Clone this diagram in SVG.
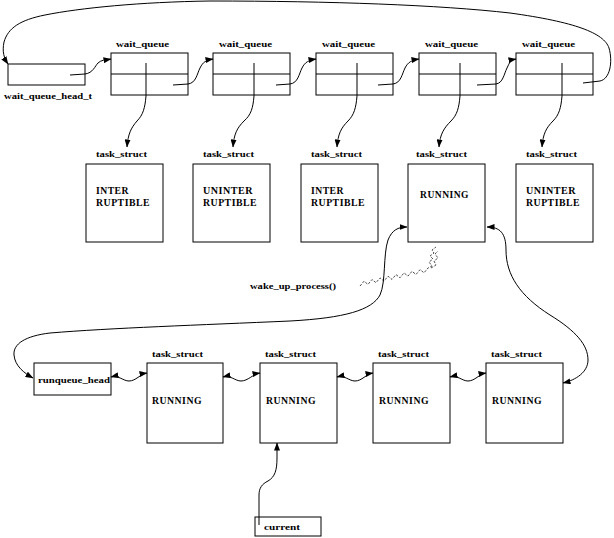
<svg xmlns="http://www.w3.org/2000/svg" width="614" height="538" viewBox="0 0 614 538">
<style>
.box{fill:#fff;stroke:#000;stroke-width:1}
.ln{fill:none;stroke:#000;stroke-width:1}
.lbl{font-family:"Liberation Serif",serif;font-weight:bold;font-size:9px;fill:#000}
.big{font-family:"Liberation Serif",serif;font-weight:bold;font-size:10px;fill:#000;letter-spacing:0.5px}
.zz{fill:none;stroke:#000;stroke-width:0.7;stroke-dasharray:2.5,1.5}
</style>
<defs>
<marker id="ah" viewBox="0 0 8 6" refX="7.5" refY="3" markerWidth="8" markerHeight="6" markerUnits="userSpaceOnUse" orient="auto-start-reverse">
<path d="M0,0 L8,3 L0,6 z" fill="#000"/>
</marker>
</defs>
<rect width="614" height="538" fill="#fff"/>

<g id="wait_queue_head">
<rect class="box" x="8" y="64" width="77" height="21"/>
<text class="lbl" x="4" y="99" textLength="88" lengthAdjust="spacingAndGlyphs">wait_queue_head_t</text>
</g>

<g id="wq1">
<text class="lbl" x="116" y="47" textLength="53" lengthAdjust="spacingAndGlyphs">wait_queue</text>
<rect class="box" x="111" y="53" width="77" height="42"/>
<line class="ln" x1="111" y1="74" x2="188" y2="74"/>
</g>
<g id="wq2">
<text class="lbl" x="219" y="47" textLength="53" lengthAdjust="spacingAndGlyphs">wait_queue</text>
<rect class="box" x="213" y="53" width="77" height="42"/>
<line class="ln" x1="213" y1="74" x2="290" y2="74"/>
</g>
<g id="wq3">
<text class="lbl" x="322" y="47" textLength="53" lengthAdjust="spacingAndGlyphs">wait_queue</text>
<rect class="box" x="316" y="53" width="77" height="42"/>
<line class="ln" x1="316" y1="74" x2="393" y2="74"/>
</g>
<g id="wq4">
<text class="lbl" x="425" y="47" textLength="53" lengthAdjust="spacingAndGlyphs">wait_queue</text>
<rect class="box" x="419" y="53" width="77" height="42"/>
<line class="ln" x1="419" y1="74" x2="496" y2="74"/>
</g>
<g id="wq5">
<text class="lbl" x="522" y="47" textLength="53" lengthAdjust="spacingAndGlyphs">wait_queue</text>
<rect class="box" x="516" y="53" width="77" height="42"/>
<line class="ln" x1="516" y1="74" x2="593" y2="74"/>
</g>

<g id="ts1">
<text class="lbl" x="96" y="157" textLength="51" lengthAdjust="spacingAndGlyphs">task_struct</text>
<rect class="box" x="86" y="164" width="77" height="78"/>
<text class="big" x="96" y="194" textLength="33" lengthAdjust="spacingAndGlyphs">INTER</text>
<text class="big" x="96" y="206" textLength="54" lengthAdjust="spacingAndGlyphs">RUPTIBLE</text>
</g>
<g id="ts2">
<text class="lbl" x="203" y="157" textLength="51" lengthAdjust="spacingAndGlyphs">task_struct</text>
<rect class="box" x="193" y="164" width="77" height="78"/>
<text class="big" x="203" y="194" textLength="50" lengthAdjust="spacingAndGlyphs">UNINTER</text>
<text class="big" x="203" y="206" textLength="54" lengthAdjust="spacingAndGlyphs">RUPTIBLE</text>
</g>
<g id="ts3">
<text class="lbl" x="311" y="157" textLength="51" lengthAdjust="spacingAndGlyphs">task_struct</text>
<rect class="box" x="301" y="164" width="77" height="78"/>
<text class="big" x="311" y="194" textLength="33" lengthAdjust="spacingAndGlyphs">INTER</text>
<text class="big" x="311" y="206" textLength="54" lengthAdjust="spacingAndGlyphs">RUPTIBLE</text>
</g>
<g id="ts4">
<text class="lbl" x="416" y="157" textLength="51" lengthAdjust="spacingAndGlyphs">task_struct</text>
<rect class="box" x="408" y="164" width="77" height="78"/>
<text class="big" x="420" y="198" textLength="49" lengthAdjust="spacingAndGlyphs">RUNNING</text>
</g>
<g id="ts5">
<text class="lbl" x="526" y="157" textLength="51" lengthAdjust="spacingAndGlyphs">task_struct</text>
<rect class="box" x="516" y="164" width="77" height="78"/>
<text class="big" x="526" y="194" textLength="50" lengthAdjust="spacingAndGlyphs">UNINTER</text>
<text class="big" x="526" y="206" textLength="54" lengthAdjust="spacingAndGlyphs">RUPTIBLE</text>
</g>

<g id="wake_label">
<text class="lbl" x="250" y="289" textLength="86" lengthAdjust="spacingAndGlyphs">wake_up_process()</text>
</g>

<g id="runqueue_head">
<rect class="box" x="34" y="363" width="77" height="32"/>
<text class="lbl" x="38" y="383" textLength="72" lengthAdjust="spacingAndGlyphs">runqueue_head</text>
</g>
<g id="rq1">
<text class="lbl" x="152" y="357" textLength="51" lengthAdjust="spacingAndGlyphs">task_struct</text>
<rect class="box" x="147" y="363" width="76" height="80"/>
<text class="big" x="152" y="404" textLength="50" lengthAdjust="spacingAndGlyphs">RUNNING</text>
</g>
<g id="rq2">
<text class="lbl" x="265" y="357" textLength="51" lengthAdjust="spacingAndGlyphs">task_struct</text>
<rect class="box" x="260" y="363" width="77" height="80"/>
<text class="big" x="266" y="404" textLength="50" lengthAdjust="spacingAndGlyphs">RUNNING</text>
</g>
<g id="rq3">
<text class="lbl" x="378" y="357" textLength="51" lengthAdjust="spacingAndGlyphs">task_struct</text>
<rect class="box" x="373" y="363" width="77" height="80"/>
<text class="big" x="379" y="404" textLength="50" lengthAdjust="spacingAndGlyphs">RUNNING</text>
</g>
<g id="rq4">
<text class="lbl" x="491" y="357" textLength="51" lengthAdjust="spacingAndGlyphs">task_struct</text>
<rect class="box" x="486" y="363" width="77" height="80"/>
<text class="big" x="492" y="404" textLength="50" lengthAdjust="spacingAndGlyphs">RUNNING</text>
</g>

<g id="current">
<rect class="box" x="255" y="517" width="66" height="19"/>
<text class="lbl" x="264" y="530" textLength="36" lengthAdjust="spacingAndGlyphs">current</text>
</g>

<g id="connectors">
<!-- top loop from last wait_queue back to head -->
<path class="ln" marker-end="url(#ah)" d="M583,83 L600,81 C610,79 613,62 609,48 C604,33 575,22 510,13 C440,5 330,1 210,1 C140,2 80,8 45,15 C20,20 8,28 4,42 C2,52 4,58 8,64"/>
<!-- head to wq1 and wq to wq -->
<path class="ln" marker-end="url(#ah)" d="M70,75 L85,74 C93,73 95,66 98,63 C101,60 105,60 111,59"/>
<path class="ln" marker-end="url(#ah)" d="M173,85 L188,84 C196,83 197,74 200,68 C203,62 206,60 213,59"/>
<path class="ln" marker-end="url(#ah)" d="M276,85 L290,84 C298,83 299,74 302,68 C305,62 309,60 316,59"/>
<path class="ln" marker-end="url(#ah)" d="M378,85 L393,84 C401,83 402,74 405,68 C408,62 412,60 419,59"/>
<path class="ln" marker-end="url(#ah)" d="M477,85 L496,84 C503,83 504,74 507,68 C510,62 510,60 516,59"/>
<!-- wait_queue to task_struct -->
<path class="ln" marker-end="url(#ah)" d="M146,63 L146,96 C145,108 143,115 137,121 C131,128 128,134 127,147"/>
<path class="ln" marker-end="url(#ah)" d="M254,63 L254,96 C253,108 251,115 244,121 C237,128 234,134 233,147"/>
<path class="ln" marker-end="url(#ah)" d="M357,63 L357,96 C356,108 354,115 348,121 C341,128 338,134 337,147"/>
<path class="ln" marker-end="url(#ah)" d="M460,63 L460,96 C459,108 457,115 451,121 C444,128 440,134 439,147"/>
<path class="ln" marker-end="url(#ah)" d="M562,63 L562,96 C561,108 559,115 553,121 C546,128 543,134 542,147"/>
<!-- wake_up squiggle -->
<path class="zz" d="M360,286 L364,281.2 L368,284.4 L372,279.5 L376,282.7 L380,277.9 L384,281.1 L388,276.2 L392,279.4 L396,274.6 L400,277.8 L404,272.9 L408,276.1 L412,271.3 L416,274.5 L420,269.6 L424,272.8 L428,268 L432,266 L429,262 L433,259 L430,256 L434,253 L432,250 L436,247"/>
<path class="zz" d="M431,268 L436,265 L434,261 L438,258 L435,254 L438,251"/>
<!-- runqueue_head <-> RUNNING (top) -->
<path class="ln" marker-start="url(#ah)" marker-end="url(#ah)" d="M33,378 C24,373 15,366 14,355 C13,344 25,336 50,333 C110,328 200,325 290,321 C345,318 372,310 380,295 C386,282 383,255 388,240 C392,230 398,227 407,227"/>
<!-- RUNNING (top) <-> last bottom task -->
<path class="ln" marker-start="url(#ah)" marker-end="url(#ah)" d="M487,227 C500,227 506,233 506,250 C506,275 520,296 550,315 C576,331 588,345 588,360 C588,372 576,380 563,383"/>
<!-- runqueue list links -->
<path class="ln" marker-start="url(#ah)" marker-end="url(#ah)" d="M111,377 C119,375 123,381 129,381 C136,381 140,374 147,373"/>
<path class="ln" marker-start="url(#ah)" marker-end="url(#ah)" d="M223,377 C231,375 235,381 241,381 C248,381 253,374 260,373"/>
<path class="ln" marker-start="url(#ah)" marker-end="url(#ah)" d="M337,377 C345,375 349,381 355,381 C362,381 366,374 373,373"/>
<path class="ln" marker-start="url(#ah)" marker-end="url(#ah)" d="M450,377 C458,375 462,381 468,381 C475,381 479,374 486,373"/>
<!-- current -> running -->
<path class="ln" marker-end="url(#ah)" d="M259,525 L259,495 C259,488 262,484 268,481 C275,477 277,470 277,458 L277,443"/>
</g>
</svg>
